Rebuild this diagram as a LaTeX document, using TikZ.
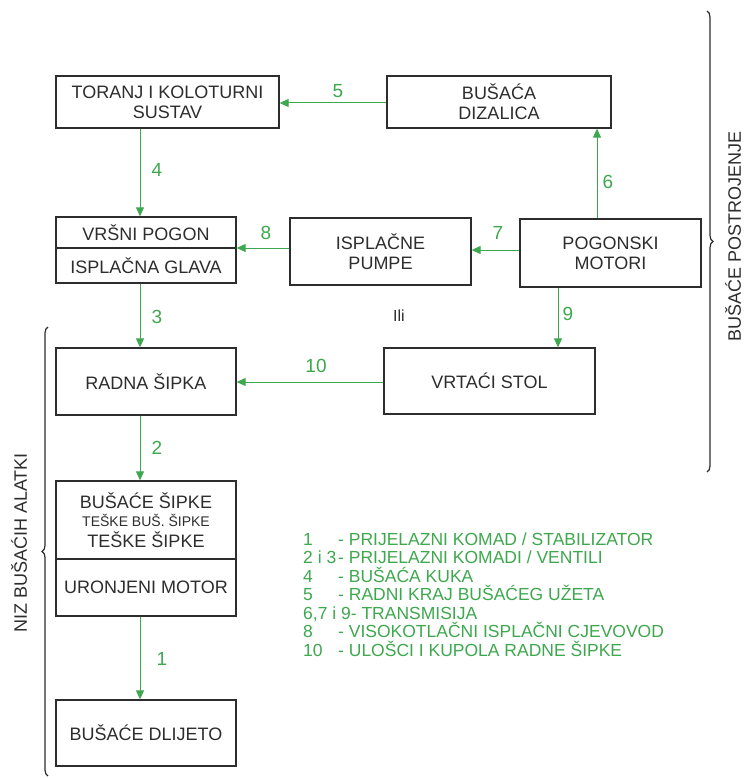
\documentclass[tikz,border=0pt]{standalone}
\usepackage{fontspec}
\setmainfont{Liberation Sans}
\usetikzlibrary{arrows.meta,decorations.pathreplacing}
\definecolor{zelena}{RGB}{62,168,78}
\definecolor{tamna}{RGB}{45,45,45}

\begin{document}
\begin{tikzpicture}[x=1pt,y=-1pt,>={Triangle[length=9pt,width=8pt]}]
    \tikzstyle{kutija}=[draw=tamna,line width=1.3pt,text=tamna,inner sep=0pt,align=center,font=\fontsize{18}{20}\selectfont]
    \tikzstyle{veza}=[->,draw=zelena,fill=zelena,line width=1pt]
    \tikzstyle{broj}=[text=zelena,font=\fontsize{19}{21}\selectfont]
    \tikzstyle{legenda}=[text=zelena,anchor=west,inner sep=0pt,text height=13pt,text depth=1pt,font=\fontsize{17.5}{18}\selectfont]
    \tikzstyle{zagrada}=[draw=tamna,line width=1.2pt,decorate,decoration={brace,amplitude=6pt}]
    \useasboundingbox[fill=white] (0,0) rectangle (744,778);
    \node[kutija,minimum width=223pt,minimum height=52pt] (K_toranj) at (167.5,102) {TORANJ I KOLOTURNI\\SUSTAV};
    \node[kutija,minimum width=224pt,minimum height=52pt] (K_dizalica) at (499,102) {BUŠAĆA\\DIZALICA};
    \node[kutija,minimum width=180pt,minimum height=31pt] (K_vrsni) at (146,232.5) {VRŠNI POGON};
    \node[kutija,minimum width=180pt,minimum height=35pt] (K_glava) at (146,265.5) {ISPLAČNA GLAVA};
    \node[kutija,minimum width=181pt,minimum height=67pt] (K_pumpe) at (380.5,251.5) {ISPLAČNE\\PUMPE};
    \node[kutija,minimum width=181pt,minimum height=68pt] (K_motori) at (610.5,253) {POGONSKI\\MOTORI};
    \node[kutija,minimum width=180pt,minimum height=67pt] (K_radna) at (146,381.5) {RADNA ŠIPKA};
    \node[kutija,minimum width=211pt,minimum height=66pt] (K_stol) at (489.5,381) {VRTAĆI STOL};
    \node[kutija,minimum width=180pt,minimum height=78pt] (K_sipke) at (146,520) {BUŠAĆE ŠIPKE\\[-2pt]{\fontsize{14}{15}\selectfont TEŠKE BUŠ. ŠIPKE}\\[1pt]TEŠKE ŠIPKE};
    \node[kutija,minimum width=180pt,minimum height=57pt] (K_motor) at (146,587.5) {URONJENI MOTOR};
    \node[kutija,minimum width=180pt,minimum height=66pt] (K_dlijeto) at (146,733) {BUŠAĆE DLIJETO};
    % veze
    \draw[veza] (K_dizalica.west |- 0,103) -- (K_toranj.east |- 0,103);
    \draw[veza] (K_toranj.south -| 140,0) -- (K_vrsni.north -| 140,0);
    \draw[veza] (K_pumpe.west |- 0,248) -- (K_vrsni.east |- 0,248);
    \draw[veza] (K_motori.west |- 0,250) -- (K_pumpe.east |- 0,250);
    \draw[veza] (K_motori.north -| 597,0) -- (K_dizalica.south -| 597,0);
    \draw[veza] (K_motori.south -| 558,0) -- (K_stol.north -| 558,0);
    \draw[veza] (K_stol.west |- 0,382) -- (K_radna.east |- 0,382);
    \draw[veza] (K_glava.south -| 140,0) -- (K_radna.north -| 140,0);
    \draw[veza] (K_radna.south -| 140,0) -- (K_sipke.north -| 140,0);
    \draw[veza] (K_motor.south -| 140,0) -- (K_dlijeto.north -| 140,0);
    \node[broj] (N_5) at (338,91) {5};
    \node[broj] (N_4) at (157,170) {4};
    \node[broj] (N_6) at (608,182) {6};
    \node[broj] (N_7) at (498,233) {7};
    \node[broj] (N_8) at (266,233) {8};
    \node[broj] (N_9) at (568,314) {9};
    \node[broj] (N_3) at (157,317) {3};
    \node[broj] (N_10) at (316,366) {10};
    \node[broj] (N_2) at (157,448) {2};
    \node[broj] (N_1) at (162,659) {1};
    \node[text=tamna,font=\fontsize{16}{16}\selectfont] (T_ili) at (399,316) {Ili};
    % zagrade
    \draw[zagrada] (707,11) -- (707,472);
    \draw[zagrada] (48,776) -- (48,327);
    \node[rotate=90,inner sep=1pt,text=tamna,font=\fontsize{18}{20}\selectfont] (T_postrojenje) at (733,236) {BUŠAĆE POSTROJENJE};
    \node[rotate=90,inner sep=1pt,text=tamna,font=\fontsize{18}{20}\selectfont] (T_niz) at (19,543) {NIZ BUŠAĆIH ALATKI};
    % legenda
    \node[legenda] (L_1) at (303,539) {\makebox[35pt][l]{1}- PRIJELAZNI KOMAD / STABILIZATOR};
    \node[legenda] (L_2) at (303,557.5) {\makebox[35pt][l]{2 i 3}- PRIJELAZNI KOMADI / VENTILI};
    \node[legenda] (L_4) at (303,576) {\makebox[35pt][l]{4}- BUŠAĆA KUKA};
    \node[legenda] (L_5) at (303,594.5) {\makebox[35pt][l]{5}- RADNI KRAJ BUŠAĆEG UŽETA};
    \node[legenda] (L_6) at (303,613) {6,7 i 9- TRANSMISIJA};
    \node[legenda] (L_8) at (303,631.5) {\makebox[35pt][l]{8}- VISOKOTLAČNI ISPLAČNI CJEVOVOD};
    \node[legenda] (L_10) at (303,650) {\makebox[35pt][l]{10}- ULOŠCI I KUPOLA RADNE ŠIPKE};
\end{tikzpicture}
\end{document}
